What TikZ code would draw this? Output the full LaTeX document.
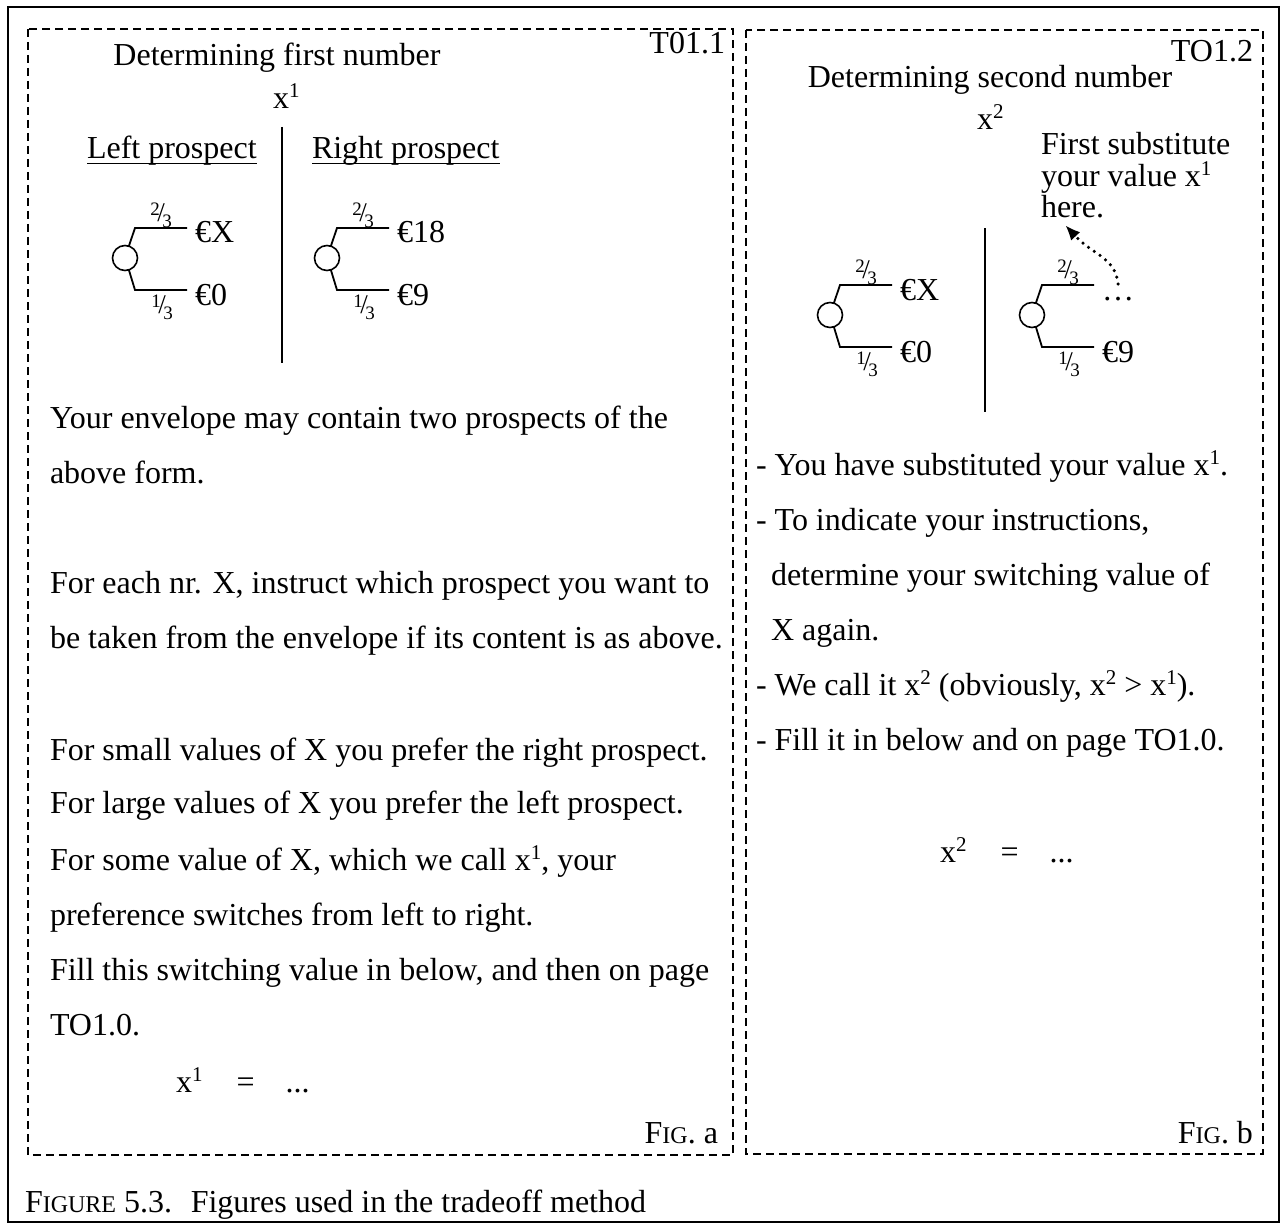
\documentclass[tikz,border=0pt]{standalone}
\usepackage{fontspec}
\setmainfont{Liberation Serif}
\usetikzlibrary{arrows.meta,calc}
\newcommand\supr[1]{\raisebox{11pt}{\fontsize{21}{21}\selectfont #1}}
\newcommand\frc[2]{{\fontsize{19}{19}\selectfont\raisebox{6pt}{#1}\kern-2.5pt{\fontsize{27}{27}\selectfont/}\kern-2.5pt\raisebox{-6pt}{#2}}}
\newcommand\smc[1]{{\fontsize{24}{24}\selectfont #1}}
\newcommand\lottery[5]{%
  \node[lotc] (#1c) at (#2,#3) {};
  \coordinate (#1u) at ($(#1c)+(10,-30)$);
  \coordinate (#1ue) at ($(#1c)+(62,-30)$);
  \coordinate (#1d) at ($(#1c)+(10,32)$);
  \coordinate (#1de) at ($(#1c)+(62,32)$);
  \draw[branch] (#1c.72) -- (#1u) -- (#1ue);
  \draw[branch] (#1c.-72) -- (#1d) -- (#1de);
  \node[txt] (#1t) at ($(#1c)+(70,-15)$) {#4};
  \node[txt] (#1b) at ($(#1c)+(70,47)$) {#5};
  \node (#1p) at ($(#1c)+(36,-43)$) {\frc23};
  \node (#1q) at ($(#1c)+(37,49)$) {\frc13};
}
\begin{document}
\begin{tikzpicture}[x=1pt,y=-1pt,
  every node/.style={inner sep=0pt,outer sep=0pt,font=\fontsize{32}{38}\selectfont},
  txt/.style={anchor=base west},
  txtr/.style={anchor=base east},
  txtc/.style={anchor=base},
  frame/.style={line width=2pt},
  panel/.style={line width=1.5pt,dash pattern=on 8pt off 5pt},
  sep/.style={line width=2pt},
  branch/.style={line width=1.8pt},
  lotc/.style={circle,draw,line width=1.6pt,minimum size=25pt},
  pointer/.style={line width=3.5pt,line cap=round,dash pattern=on 0pt off 7pt,
     -{Latex[length=14pt,width=12pt,line width=0pt]}}]
\useasboundingbox (0,0) rectangle (1282,1225);
\draw[frame] (8,7) rectangle (1279,1222);
\draw[panel] (28,29) rectangle (733,1155);
\draw[panel] (746,30) rectangle (1263,1154);

% ---------- left panel ----------
\node[txtr] (tag1) at (725,54) {T01.1};
\node[txtc] (h1) at (277,66) {Determining first number};
\node[txt] (xa) at (273,109) {x\supr{1}};
\draw[sep] (282,127) coordinate (s1a) -- (282,363) coordinate (s1b);
\node[txt] (lp) at (87,159) {Left prospect};
\node[txt] (rp) at (312,159) {Right prospect};
\draw[line width=1.8pt] ([yshift=-4.5pt]lp.base west) -- ([yshift=-4.5pt]lp.base east);
\draw[line width=1.8pt] ([yshift=-4.5pt]rp.base west) -- ([yshift=-4.5pt]rp.base east);
\lottery{A}{125}{258}{€X}{€0}
\lottery{B}{327}{258}{€18}{€9}

\node[txt] (l1) at (50,428) {Your envelope may contain two prospects of the};
\node[txt] (l2) at (50,483) {above form.};
\node[txt] (l3) at (50,593) {For each nr. X, instruct which prospect you want to};
\node[txt] (l4) at (50,648) {be taken from the envelope if its content is as above.};
\node[txt] (l5) at (50,760) {For small values of X you prefer the right prospect.};
\node[txt] (l6) at (50,813) {For large values of X you prefer the left prospect.};
\node[txt] (l7) at (50,870) {For some value of X, which we call x\supr{1}, your};
\node[txt] (l8) at (50,925) {preference switches from left to right.};
\node[txt] (l9) at (50,980) {Fill this switching value in below, and then on page};
\node[txt] (l10) at (50,1035) {TO1.0.};
\node[txt] (eqa) at (176,1092) {x\supr{1}\hspace{34pt}=\hspace{31pt}...};
\node[txtr] (figa) at (718,1143) {F\smc{IG}. a};

% ---------- right panel ----------
\node[txtr] (tag2) at (1253,62) {TO1.2};
\node[txtc] (h2) at (990,88) {Determining second number};
\node[txt] (xb) at (977,130) {x\supr{2}};
\node[txt] (n1) at (1041,155) {First substitute};
\node[txt] (n2) at (1041,187) {your value x\supr{1}};
\node[txt] (n3) at (1041,218) {here.};
\draw[sep] (985,228) coordinate (s2a) -- (985,412) coordinate (s2b);
\lottery{C}{830}{315}{€X}{€0}
\lottery{D}{1032}{315}{…}{€9}
\coordinate (arrS) at (1118,284);
\draw[pointer] (arrS) .. controls (1116,258) and (1092,254) .. ($(n3.base west)+(25,8)$);

\node[txt] (r1) at (756,475) {- You have substituted your value x\supr{1}.};
\node[txt] (r2) at (756,530) {- To indicate your instructions,};
\node[txt] (r3) at (771,585) {determine your switching value of};
\node[txt] (r4) at (771,640) {X again.};
\node[txt] (r5) at (756,695) {- We call it x\supr{2} (obviously, x\supr{2} > x\supr{1}).};
\node[txt] (r6) at (756,750) {- Fill it in below and on page TO1.0.};
\node[txt] (eqb) at (940,862) {x\supr{2}\hspace{34pt}=\hspace{31pt}...};
\node[txtr] (figb) at (1253,1143) {F\smc{IG}. b};

% ---------- caption ----------
\node[txt] (cap) at (25,1212) {F\smc{IGURE} 5.3.\hspace{8pt} Figures used in the tradeoff method};
\end{tikzpicture}
\end{document}
